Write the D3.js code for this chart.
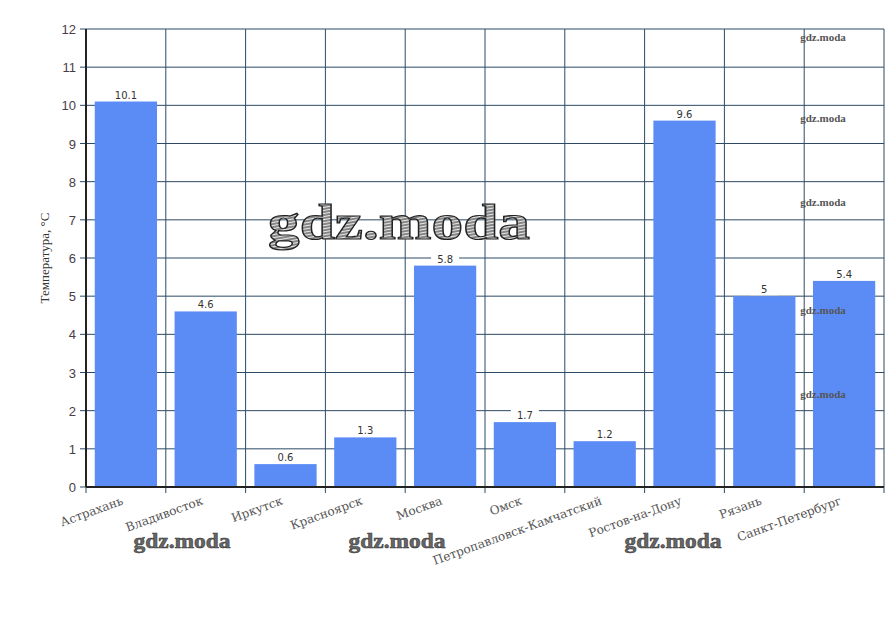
<!DOCTYPE html>
<html><head><meta charset="utf-8">
<script src="https://cdn.jsdelivr.net/npm/d3@7"></script>
<style>body{margin:0;background:#fff}svg{display:block}</style>
</head><body><svg id="c" width="894" height="617"></svg>
<script>
const cities = ["Астрахань","Владивосток","Иркутск","Красноярск","Москва","Омск","Петропавловск-Камчатский","Ростов-на-Дону","Рязань","Санкт-Петербург"];
const temps = [10.1,4.6,0.6,1.3,5.8,1.7,1.2,9.6,5,5.4];
const yTicks = [0,1,2,3,4,5,6,7,8,9,10,11,12];
const yTitle = "Температура, °С";
const wmSmallY = [37,118,202,310,394];
const wmBottomX = [182,397,673];

const W=894,H=617,m={l:86,r:10,t:29,b:130};
const svg=d3.select("#c");
const x=d3.scaleBand().domain(cities).range([m.l,W-m.r]).paddingInner(0.22).paddingOuter(0.11);
const xb=d3.scaleBand().domain(cities).range([m.l,W-m.r]);
const y=d3.scaleLinear().domain([0,12]).range([H-m.b,m.t]);
const gridC="#2d4a66";

const defs=svg.append("defs");
const pat=defs.append("pattern").attr("id","hatch").attr("width",3).attr("height",3).attr("patternUnits","userSpaceOnUse").attr("patternTransform","rotate(-10)");
pat.append("rect").attr("width",3).attr("height",3).attr("fill","#e8e8e8");
pat.append("line").attr("x1",0).attr("y1",1).attr("x2",3).attr("y2",1).attr("stroke","#333").attr("stroke-width",1.1);

svg.append("g").selectAll("line").data(yTicks).join("line")
 .attr("x1",m.l-6).attr("x2",W-m.r).attr("y1",d=>y(d)).attr("y2",d=>y(d))
 .attr("stroke",gridC).attr("stroke-width",1);
const vx=cities.map(c=>xb(c)).concat([W-m.r]);
svg.append("g").selectAll("line").data(vx).join("line")
 .attr("x1",d=>d).attr("x2",d=>d).attr("y1",m.t).attr("y2",H-m.b+6)
 .attr("stroke",gridC).attr("stroke-width",1);

svg.append("g").selectAll("rect").data(temps).join("rect")
 .attr("x",(d,i)=>x(cities[i])).attr("width",x.bandwidth())
 .attr("y",d=>y(d)).attr("height",d=>y(0)-y(d)).attr("fill","#5b8cf6");

svg.append("g").selectAll("text").data(wmSmallY).join("text")
 .attr("x",823).attr("y",d=>d+4).attr("text-anchor","middle")
 .attr("font-family","Liberation Serif").attr("font-weight","bold").attr("font-size",11)
 .attr("fill","#555").text("gdz.moda");

const vl=svg.append("g").selectAll("g").data(temps).join("g")
 .attr("transform",(d,i)=>`translate(${x(cities[i])+x.bandwidth()/2},${y(d)-6})`);
vl.append("rect").attr("x",-14).attr("y",-7).attr("width",28).attr("height",12).attr("fill","#fff");
vl.append("text").attr("text-anchor","middle").attr("y",3)
 .attr("font-family","DejaVu Sans").attr("font-size",10).attr("fill","#333").text(d=>String(d));

svg.append("line").attr("x1",m.l).attr("x2",m.l).attr("y1",m.t).attr("y2",H-m.b).attr("stroke","#222").attr("stroke-width",2);
svg.append("line").attr("x1",m.l).attr("x2",W-m.r).attr("y1",H-m.b).attr("y2",H-m.b).attr("stroke","#222").attr("stroke-width",2);

svg.append("g").selectAll("text").data(yTicks).join("text")
 .attr("x",m.l-10).attr("y",d=>y(d)+5).attr("text-anchor","end")
 .attr("font-family","Liberation Sans").attr("font-size",13).attr("fill","#4a3c48").text(d=>d);

svg.append("text").attr("transform",`translate(49,${(m.t+H-m.b)/2}) rotate(-90)`)
 .attr("text-anchor","middle").attr("font-family","Liberation Serif").attr("font-size",13).attr("fill","#333").text(yTitle);

svg.append("g").selectAll("text").data(cities).join("text")
 .attr("transform",c=>`translate(${xb(c)+xb.bandwidth()/2-2},${H-m.b+17}) rotate(-20)`)
 .attr("text-anchor","end").attr("font-family","DejaVu Serif").attr("font-size",12).attr("fill","#555").text(c=>c);

svg.append("g").selectAll("text").data(wmBottomX).join("text")
 .attr("x",d=>d).attr("y",548).attr("text-anchor","middle")
 .attr("font-family","Liberation Serif").attr("font-weight","bold").attr("font-size",21)
 .attr("textLength",97).attr("lengthAdjust","spacingAndGlyphs")
 .attr("fill","#666").attr("stroke","#333").attr("stroke-width",0.5).text("gdz.moda");

svg.append("text").attr("x",268).attr("y",239)
 .attr("font-family","Liberation Serif").attr("font-weight","bold").attr("font-size",50)
 .attr("textLength",262).attr("lengthAdjust","spacingAndGlyphs")
 .attr("fill","url(#hatch)").attr("stroke","#222").attr("stroke-width",1.2).text("gdz.moda");
</script></body></html>
